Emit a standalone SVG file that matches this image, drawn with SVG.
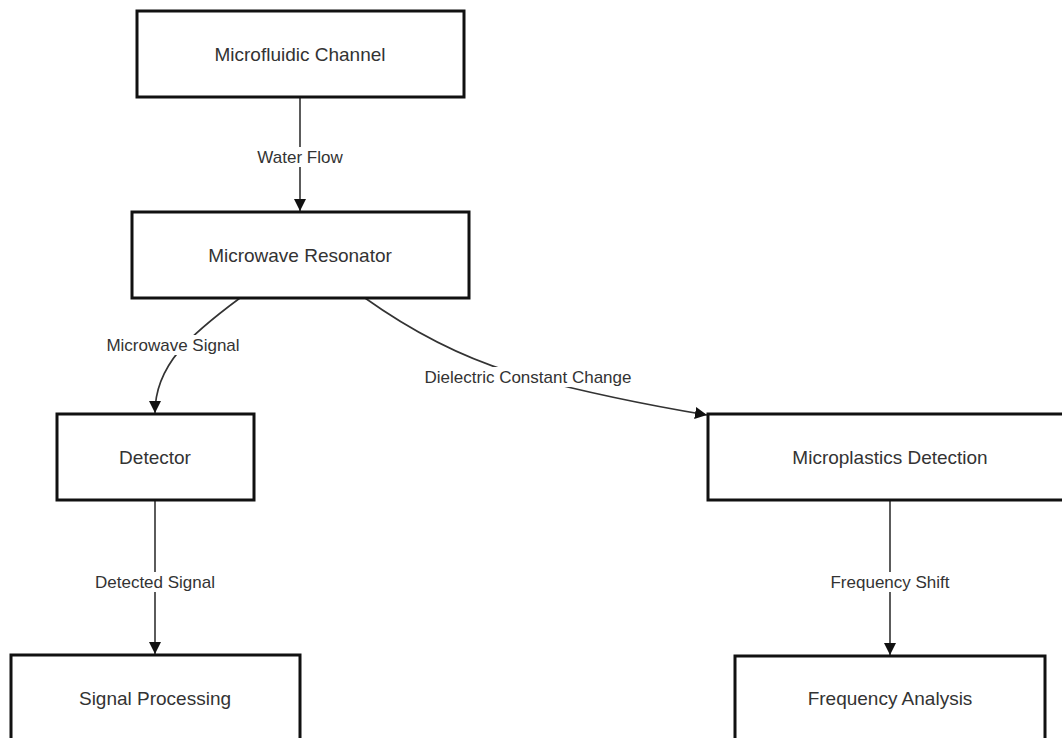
<svg xmlns="http://www.w3.org/2000/svg" width="1062" height="738" viewBox="0 0 1062 738">
<defs>
<style>
.node rect{fill:#fff;stroke:#111;stroke-width:3}
.node text{font-family:"Liberation Sans",Arial,sans-serif;font-size:19px;fill:#333;text-anchor:middle;dominant-baseline:central}
.edge{fill:none;stroke:#333;stroke-width:1.6}
.lbl rect{fill:#fff}
.lbl text{font-family:"Liberation Sans",Arial,sans-serif;font-size:17px;fill:#333;text-anchor:middle;dominant-baseline:central}
</style>
<marker id="arr" viewBox="0 0 12 12" refX="12" refY="6" markerWidth="12" markerHeight="12" markerUnits="userSpaceOnUse" orient="auto">
<path d="M0,0 L12,6 L0,12 Z" fill="#111"/>
</marker>
</defs>
<rect width="1062" height="738" fill="#fff"/>
<g id="connectors">
<path class="edge" d="M300,97 L300,211" marker-end="url(#arr)"/>
<path class="edge" d="M240,298 C190,335 155,365 155,413" marker-end="url(#arr)"/>
<path class="edge" d="M365,298 Q445,355 528,377 T707,415" marker-end="url(#arr)"/>
<path class="edge" d="M155,500 L155,654" marker-end="url(#arr)"/>
<path class="edge" d="M890,500 L890,655" marker-end="url(#arr)"/>
<g class="lbl"><rect x="255" y="147" width="90" height="20"/><text x="300" y="157">Water Flow</text></g>
<g class="lbl"><rect x="103" y="335" width="140" height="20"/><text x="173" y="345">Microwave Signal</text></g>
<g class="lbl"><rect x="420" y="367" width="216" height="20"/><text x="528" y="377">Dielectric Constant Change</text></g>
<g class="lbl"><rect x="92" y="572" width="126" height="20"/><text x="155" y="582">Detected Signal</text></g>
<g class="lbl"><rect x="826" y="572" width="128" height="20"/><text x="890" y="582">Frequency Shift</text></g>
</g>
<g id="n1" class="node"><rect x="137" y="11" width="327" height="86"/><text x="300" y="54">Microfluidic Channel</text></g>
<g id="n2" class="node"><rect x="132" y="212" width="337" height="86"/><text x="300" y="255">Microwave Resonator</text></g>
<g id="n3" class="node"><rect x="57" y="414" width="197" height="86"/><text x="155" y="457">Detector</text></g>
<g id="n4" class="node"><rect x="708" y="414" width="364" height="86"/><text x="890" y="457">Microplastics Detection</text></g>
<g id="n5" class="node"><rect x="11" y="655" width="289" height="100"/><text x="155" y="698">Signal Processing</text></g>
<g id="n6" class="node"><rect x="735" y="656" width="310" height="100"/><text x="890" y="698">Frequency Analysis</text></g>
</svg>
